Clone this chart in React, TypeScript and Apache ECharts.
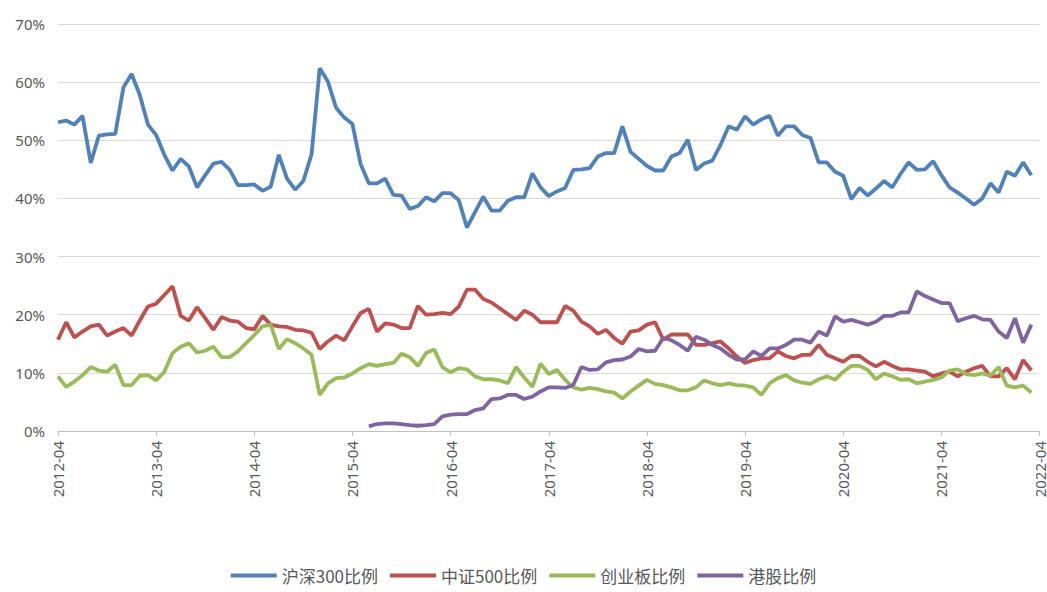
import React, { useEffect, useRef } from "react";
import * as echarts from "echarts";

// Month categories 2012-04 .. 2022-04
const months: string[] = (() => {
  const out: string[] = [];
  let y = 2012;
  let m = 4;
  while (y < 2022 || (y === 2022 && m <= 4)) {
    out.push(`${y}-${String(m).padStart(2, "0")}`);
    m++;
    if (m > 12) { m = 1; y++; }
  }
  return out;
})();

const seriesNames = ["沪深300比例", "中证500比例", "创业板比例", "港股比例"];

const hs300: (number | null)[] = [
  53.1, 53.4, 52.7, 54.2, 46.1, 50.8, 51.0, 51.1, 59.1, 61.4,
  57.8, 52.7, 50.9, 47.5, 44.8, 46.8, 45.5, 41.9, 44.0, 46.0,
  46.3, 44.9, 42.3, 42.3, 42.4, 41.3, 42.0, 47.5, 43.4, 41.5,
  43.0, 47.6, 62.4, 60.1, 55.6, 53.9, 52.8, 45.9, 42.6, 42.6,
  43.4, 40.6, 40.5, 38.2, 38.7, 40.2, 39.5, 40.9, 40.9, 39.7,
  35.0, 37.7, 40.3, 37.9, 37.9, 39.6, 40.2, 40.2, 44.3, 41.9,
  40.4, 41.2, 41.8, 44.9, 45.0, 45.2, 47.2, 47.8, 47.8, 52.4,
  48.0, 46.8, 45.6, 44.8, 44.8, 47.2, 47.8, 50.1, 44.9, 46.0,
  46.5, 49.2, 52.4, 51.8, 54.1, 52.7, 53.6, 54.2, 50.8, 52.4,
  52.4, 50.9, 50.4, 46.2, 46.2, 44.6, 43.9, 39.9, 41.8, 40.5,
  41.7, 43.0, 41.9, 44.2, 46.2, 44.9, 45.0, 46.4, 44.0, 41.9,
  41.0, 40.0, 38.9, 40.0, 42.6, 41.0, 44.6, 43.9, 46.2, 44.0,
];

const zz500: (number | null)[] = [
  15.7, 18.7, 16.1, 17.1, 18.0, 18.3, 16.4, 17.1, 17.7, 16.4,
  19.0, 21.4, 21.9, 23.4, 24.9, 19.8, 19.0, 21.3, 19.4, 17.4,
  19.6, 19.0, 18.8, 17.7, 17.5, 19.8, 18.3, 18.0, 17.9, 17.4,
  17.3, 16.9, 14.1, 15.4, 16.4, 15.6, 18.0, 20.3, 21.0, 17.1,
  18.5, 18.3, 17.7, 17.7, 21.5, 20.0, 20.1, 20.3, 20.1, 21.4,
  24.3, 24.3, 22.7, 22.1, 21.1, 20.1, 19.1, 20.7, 20.0, 18.7,
  18.7, 18.7, 21.5, 20.7, 18.8, 18.0, 16.7, 17.4, 16.0, 15.0,
  17.1, 17.3, 18.3, 18.7, 15.7, 16.6, 16.6, 16.6, 14.8, 14.8,
  15.1, 15.4, 14.2, 12.8, 11.7, 12.2, 12.5, 12.5, 13.7, 12.9,
  12.5, 13.1, 13.1, 14.8, 13.1, 12.5, 11.9, 12.9, 12.9, 11.9,
  11.1, 11.9, 11.2, 10.6, 10.6, 10.4, 10.2, 9.4, 9.9, 10.2,
  9.4, 10.2, 10.8, 11.2, 9.4, 9.4, 10.8, 8.9, 12.2, 10.4,
];

const cyb: (number | null)[] = [
  9.4, 7.6, 8.5, 9.6, 11.0, 10.4, 10.2, 11.4, 7.9, 7.9,
  9.5, 9.6, 8.7, 10.2, 13.4, 14.5, 15.1, 13.5, 13.8, 14.5,
  12.7, 12.7, 13.7, 15.1, 16.5, 18.0, 18.3, 14.1, 15.8, 15.1,
  14.2, 13.1, 6.2, 8.2, 9.1, 9.2, 9.9, 10.8, 11.5, 11.2,
  11.5, 11.7, 13.3, 12.7, 11.2, 13.4, 14.0, 11.0, 10.1, 10.8,
  10.6, 9.4, 8.9, 8.9, 8.7, 8.2, 11.0, 9.2, 7.6, 11.6,
  9.8, 10.5, 8.8, 7.5, 7.1, 7.4, 7.2, 6.8, 6.6, 5.6,
  6.8, 7.8, 8.8, 8.1, 7.9, 7.5, 7.0, 7.0, 7.5, 8.7,
  8.2, 7.9, 8.2, 7.9, 7.8, 7.5, 6.2, 8.2, 9.1, 9.6,
  8.7, 8.3, 8.1, 8.9, 9.4, 8.8, 10.2, 11.2, 11.2, 10.5,
  8.9, 9.9, 9.4, 8.8, 8.9, 8.2, 8.5, 8.8, 9.2, 10.4,
  10.6, 9.8, 9.6, 9.9, 9.5, 11.0, 7.8, 7.5, 7.8, 6.6,
];

const hk: (number | null)[] = [
  null, null, null, null, null, null, null, null, null, null,
  null, null, null, null, null, null, null, null, null, null,
  null, null, null, null, null, null, null, null, null, null,
  null, null, null, null, null, null, null, null, 0.8, 1.2,
  1.3, 1.3, 1.2, 1.0, 0.9, 1.0, 1.2, 2.5, 2.8, 2.9,
  2.9, 3.6, 3.9, 5.5, 5.6, 6.2, 6.2, 5.5, 5.9, 6.8,
  7.5, 7.5, 7.4, 7.9, 11.0, 10.5, 10.6, 11.8, 12.2, 12.3,
  12.8, 14.1, 13.7, 13.8, 16.0, 15.6, 14.8, 13.8, 16.2, 15.7,
  14.8, 14.2, 13.1, 12.3, 12.3, 13.7, 12.9, 14.2, 14.2, 14.8,
  15.7, 15.7, 15.2, 17.1, 16.4, 19.7, 18.8, 19.1, 18.7, 18.3,
  18.8, 19.8, 19.8, 20.4, 20.4, 24.0, 23.2, 22.6, 22.0, 22.0,
  18.9, 19.4, 19.8, 19.2, 19.1, 17.1, 16.0, 19.4, 15.2, 18.3,
];

const yTicks = { min: 0, max: 70, interval: 10 };
const colors = ["#4F81BD", "#C0504D", "#9BBB59", "#8064A2"];

export default function App() {
  const ref = useRef<HTMLDivElement>(null);
  useEffect(() => {
    if (!ref.current) return;
    const chart = echarts.init(ref.current, null, { renderer: "svg" });
    const datasets = [hs300, zz500, cyb, hk];
    chart.setOption({
      animation: false,
      backgroundColor: "#ffffff",
      color: colors,
      grid: { left: 58, right: 4, top: 24, bottom: 161, containLabel: false },
      legend: {
        bottom: 3,
        left: "center",
        icon: "rect",
        itemWidth: 46,
        itemHeight: 4,
        itemGap: 12,
        textStyle: { color: "#595959", fontSize: 17, fontFamily: "'Noto Sans CJK SC', 'Noto Sans', sans-serif" },
        data: seriesNames,
      },
      xAxis: {
        type: "category",
        data: months,
        boundaryGap: false,
        axisLine: { lineStyle: { color: "#bfbfbf", width: 1 } },
        axisTick: { show: true, interval: 11, length: 5, lineStyle: { color: "#bfbfbf" } },
        axisLabel: {
          interval: 11,
          rotate: 90,
          margin: 10,
          color: "#595959",
          fontSize: 15,
          fontFamily: "'Noto Sans', sans-serif",
        },
        splitLine: { show: false },
      },
      yAxis: {
        type: "value",
        min: yTicks.min,
        max: yTicks.max,
        interval: yTicks.interval,
        axisLine: { show: false },
        axisTick: { show: false },
        axisLabel: {
          formatter: "{value}%",
          color: "#595959",
          fontSize: 15,
          margin: 13,
          fontFamily: "'Noto Sans', sans-serif",
        },
        splitLine: { lineStyle: { color: "#d9d9d9", width: 1 } },
      },
      series: seriesNames.map((name, k) => ({
        name,
        type: "line",
        data: datasets[k],
        symbol: "none",
        showSymbol: false,
        connectNulls: false,
        lineStyle: { width: 3.8, color: colors[k] },
        itemStyle: { color: colors[k] },
      })),
    });
    return () => chart.dispose();
  }, []);
  return (
    <div
      ref={ref}
      style={{ position: "absolute", left: 0, top: 0, width: 1047, height: 592 }}
    />
  );
}
